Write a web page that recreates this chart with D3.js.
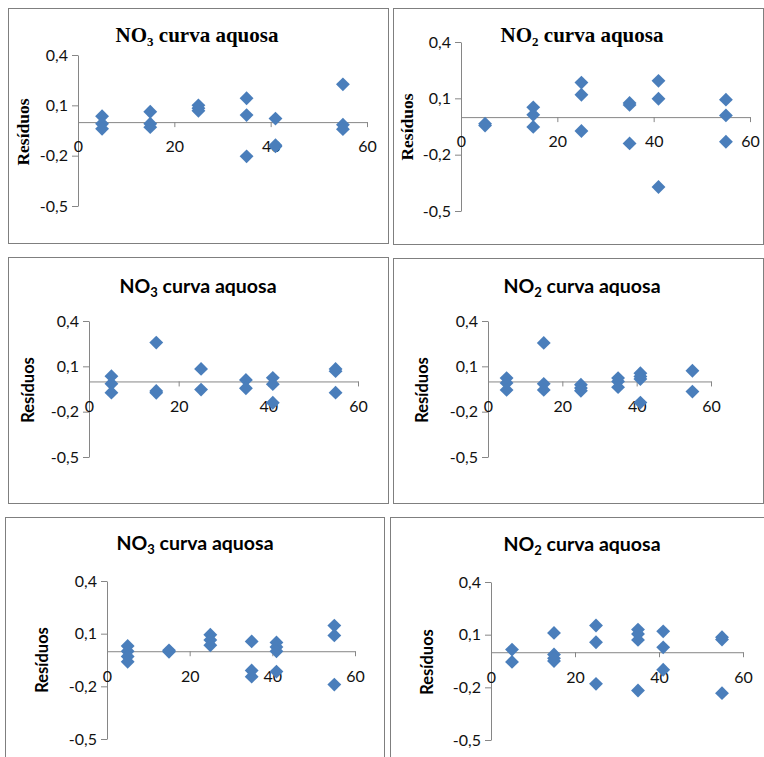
<!DOCTYPE html>
<html>
<head>
<meta charset="utf-8">
<script src="https://cdn.jsdelivr.net/npm/d3@7"></script>
<style>
  html, body { margin: 0; padding: 0; background: #fff; }
  svg { display: block; }
</style>
</head>
<body>
<svg id="chart" width="764" height="757"></svg>
<script>
// ---------- data ----------
const yTicks = [0.4, 0.1, -0.2, -0.5];
const xTicks = [0, 20, 40, 60];
const ylabelText = "Resíduos";

// Panel 1: NO3 (top)
const x1 = [5, 5, 5, 15, 15, 15, 25, 25, 25, 35, 35, 35, 41, 41, 41, 55, 55, 55];
const y1 = [0.035, -0.01, -0.04, 0.062, -0.01, -0.03, 0.1, 0.083, 0.067, 0.142, 0.042, -0.204, 0.021, -0.138, -0.145, 0.225, -0.015, -0.042];
// Panel 2: NO2 (top)
const x2 = [5, 5, 15, 15, 15, 25, 25, 25, 35, 35, 35, 41, 41, 41, 55, 55, 55];
const y2 = [-0.035, -0.045, 0.052, 0.012, -0.052, 0.184, 0.119, -0.074, 0.075, 0.065, -0.14, 0.193, 0.098, -0.372, 0.093, 0.009, -0.131];
// Panel 3: NO3 (middle)
const x3 = [5, 5, 5, 15, 15, 15, 25, 25, 35, 35, 41, 41, 41, 55, 55, 55];
const y3 = [0.035, -0.015, -0.074, 0.257, -0.063, -0.075, 0.083, -0.054, 0.01, -0.045, 0.024, -0.018, -0.141, 0.083, 0.068, -0.074];
// Panel 4: NO2 (middle)
const x4 = [5, 5, 5, 15, 15, 15, 25, 25, 25, 35, 35, 35, 41, 41, 41, 41, 55, 55];
const y4 = [0.022, -0.011, -0.056, 0.255, -0.016, -0.056, -0.022, -0.044, -0.062, 0.022, 0.0, -0.038, 0.055, 0.033, 0.016, -0.14, 0.071, -0.067];
// Panel 5: NO3 (bottom)
const x5 = [5, 5, 5, 5, 15, 15, 25, 25, 25, 35, 35, 35, 41, 41, 41, 41, 55, 55, 55];
const y5 = [0.03, 0.0, -0.03, -0.06, 0.005, -0.003, 0.094, 0.064, 0.034, 0.056, -0.11, -0.145, 0.05, 0.024, 0.0, -0.116, 0.146, 0.09, -0.19];
// Panel 6: NO2 (bottom)
const x6 = [5, 5, 15, 15, 15, 15, 25, 25, 25, 35, 35, 35, 35, 41, 41, 41, 55, 55, 55];
const y6 = [0.015, -0.055, 0.11, -0.013, -0.035, -0.05, 0.152, 0.057, -0.18, 0.129, 0.104, 0.07, -0.218, 0.119, 0.028, -0.1, 0.085, 0.072, -0.233];

const titleMain = ["NO", "NO", "NO", "NO", "NO", "NO"];
const titleSub = ["3", "2", "3", "2", "3", "2"];
const titleRest = " curva aquosa";

// ---------- layout ----------
const layout = [
  { fr: [8, 8, 380, 235],   ax: 78,  x60: 367, yTop: 55,  yBot: 206, tx: 197, ty: 42,  lx: 23,  ly: 132, serif: true },
  { fr: [393, 8, 370, 236], ax: 461, x60: 750, yTop: 42,  yBot: 211, tx: 582, ty: 42,  lx: 407, ly: 127, serif: true },
  { fr: [8, 257, 380, 246], ax: 89,  x60: 358, yTop: 321, yBot: 457, tx: 198, ty: 293, lx: 28,  ly: 390, serif: false },
  { fr: [393, 258, 370, 245], ax: 488, x60: 711, yTop: 321, yBot: 457, tx: 582, ty: 293, lx: 422, ly: 390, serif: false },
  { fr: [5, 517, 379, 260], ax: 107, x60: 355, yTop: 581, yBot: 739, tx: 195, ty: 550, lx: 42,  ly: 660, serif: false },
  { fr: [390, 517, 390, 260], ax: 491, x60: 743, yTop: 582, yBot: 740, tx: 582, ty: 551, lx: 427, ly: 662, serif: false }
];
const xs = [x1, x2, x3, x4, x5, x6];
const ys = [y1, y2, y3, y4, y5, y6];

const markerColor = "#4a7ebb";
const axisColor = "#868686";
const frameColor = "#7f7f7f";
const serifFont = "'Liberation Serif', 'Times New Roman', serif";
const sansFont = "Lato, 'Open Sans', 'Liberation Sans', sans-serif";

const diamond = {
  draw(ctx, size) {
    const r = Math.sqrt(size / 2);
    ctx.moveTo(0, -r); ctx.lineTo(r, 0); ctx.lineTo(0, r); ctx.lineTo(-r, 0); ctx.closePath();
  }
};
const symbolPath = d3.symbol().type(diamond).size(96)();

const svg = d3.select("#chart");
const fmt = d => d3.format(".1f")(d).replace(".", ",").replace("−", "-");

layout.forEach((L, i) => {
  const g = svg.append("g");
  // frame
  g.append("rect")
    .attr("x", L.fr[0] + 0.5).attr("y", L.fr[1] + 0.5)
    .attr("width", L.fr[2]).attr("height", L.fr[3])
    .attr("fill", "#fff").attr("stroke", frameColor).attr("stroke-width", 1);

  const x = d3.scaleLinear().domain([0, 60]).range([L.ax, L.x60]);
  const y = d3.scaleLinear().domain([0.4, -0.5]).range([L.yTop, L.yBot]);

  // title
  const t = g.append("text")
    .attr("x", L.tx).attr("y", L.ty)
    .attr("text-anchor", "middle")
    .attr("font-family", L.serif ? serifFont : sansFont)
    .attr("font-weight", "bold")
    .attr("font-size", L.serif ? 21 : 19.5)
    .attr("fill", "#000");
  t.append("tspan").text(titleMain[i]);
  t.append("tspan").attr("font-size", 13).attr("dy", 4).text(titleSub[i]);
  t.append("tspan").attr("dy", -4).text(titleRest);

  // y label
  g.append("text")
    .attr("transform", `translate(${L.lx},${L.ly}) rotate(-90)`)
    .attr("text-anchor", "middle")
    .attr("dominant-baseline", "central")
    .attr("font-family", L.serif ? serifFont : sansFont)
    .attr("font-weight", "bold")
    .attr("font-size", L.serif ? 17.5 : 16.5)
    .attr("fill", "#000")
    .text(ylabelText);

  // y axis
  const ya = g.append("g")
    .attr("transform", `translate(${L.ax},0)`)
    .call(d3.axisLeft(y).tickValues(yTicks).tickFormat(fmt).tickSize(6).tickSizeOuter(0).tickPadding(4));
  ya.select(".domain").attr("stroke", axisColor);
  ya.selectAll(".tick line").attr("stroke", axisColor);
  ya.selectAll(".tick text")
    .attr("font-family", sansFont).attr("font-size", 16).attr("fill", "#111");

  // x axis at y = 0
  const xa = g.append("g")
    .attr("transform", `translate(0,${y(0)})`)
    .call(d3.axisBottom(x).tickValues(xTicks).tickFormat(d3.format("d")).tickSize(5).tickSizeOuter(0).tickPadding(14));
  xa.select(".domain").attr("stroke", axisColor);
  xa.selectAll(".tick line").attr("stroke", axisColor).attr("opacity", d => d === 0 ? 0 : 1);
  xa.selectAll(".tick text")
    .attr("font-family", sansFont).attr("font-size", 16).attr("fill", "#111");

  // markers
  const pts = xs[i].map((v, k) => [v, ys[i][k]]);
  g.append("g").selectAll("path").data(pts).join("path")
    .attr("d", symbolPath)
    .attr("transform", d => `translate(${x(d[0])},${y(d[1])})`)
    .attr("fill", markerColor);
});
</script>
</body>
</html>
